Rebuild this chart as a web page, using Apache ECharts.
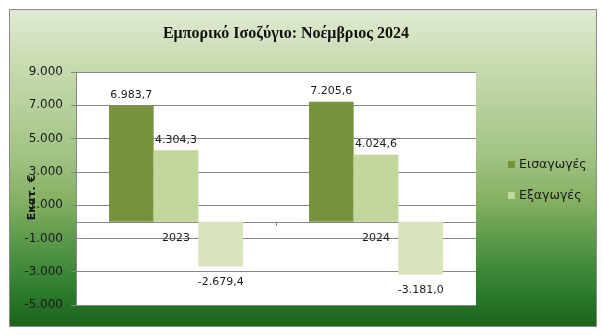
<!DOCTYPE html>
<html>
<head>
<meta charset="utf-8">
<script src="https://cdn.jsdelivr.net/npm/echarts@6/dist/echarts.min.js"></script>
<style>
html,body{margin:0;padding:0;background:#fff;}
#chart{width:602px;height:335px;}
</style>
</head>
<body>
<div id="chart"></div>
<script>
var categories = ['2023', '2024'];
var imports = [6983.7, 7205.6];
var exportsData = [4304.3, 4024.6];
var balance = [-2679.4, -3181.0];
var yTicks = [-5000, -3000, -1000, 1000, 3000, 5000, 7000, 9000];
var titleText = 'Εμπορικό Ισοζύγιο: Νοέμβριος 2024';
var yName = 'Εκατ. €';
var seriesNames = ['Εισαγωγές', 'Εξαγωγές', 'Εμπορικό Ισοζύγιο'];

function grNum(v, dec) {
  var neg = v < 0;
  var s = Math.abs(v).toFixed(dec);
  var parts = s.split('.');
  var ip = parts[0].replace(/\B(?=(\d{3})+(?!\d))/g, '.');
  var out = ip + (parts.length > 1 ? ',' + parts[1] : '');
  return (neg ? '-' : '') + out;
}

var chart = echarts.init(document.getElementById('chart'), null, {renderer: 'canvas'});
var gridColor = '#868686';
var labelFont = {fontFamily: 'DejaVu Sans', fontSize: 11, color: '#1a1a1a'};

chart.setOption({
  animation: false,
  graphic: [{
    type: 'rect', z: -10, silent: true,
    shape: {x: 9.5, y: 9.5, width: 587, height: 317},
    style: {
      fill: {type: 'linear', x: 0, y: 0, x2: 0, y2: 1, colorStops: [
        {offset: 0, color: '#E0EAD4'},
        {offset: 0.15, color: '#CCDDB4'},
        {offset: 0.45, color: '#A3C486'},
        {offset: 0.6, color: '#86B062'},
        {offset: 0.78, color: '#4A9040'},
        {offset: 0.9, color: '#2A792B'},
        {offset: 1, color: '#1C631C'}
      ]},
      stroke: '#8c8c8c', lineWidth: 1
    }
  }],
  title: {
    text: titleText,
    left: 281, top: 21, textAlign: 'center',
    textStyle: {fontFamily: 'Liberation Serif', fontWeight: 'bold', fontSize: 16, color: '#111'}
  },
  legend: {
    data: ['Εισαγωγές', 'Εξαγωγές'],
    orient: 'vertical',
    left: 503, top: 153,
    itemWidth: 7, itemHeight: 7, itemGap: 18,
    icon: 'rect',
    textStyle: {fontFamily: 'DejaVu Sans', fontSize: 12.5, color: '#1a1a1a', padding: [0, 0, 0, -1]}
  },
  grid: {
    left: 76, top: 72, width: 400, height: 233,
    show: true, backgroundColor: '#ffffff', borderWidth: 0
  },
  xAxis: {
    type: 'category',
    data: categories,
    position: 'bottom',
    offset: -83,
    axisLine: {onZero: false, lineStyle: {color: gridColor, width: 1}},
    axisTick: {show: true, length: 4, lineStyle: {color: gridColor}},
    axisLabel: Object.assign({margin: 11}, labelFont),
    splitLine: {show: false}
  },
  yAxis: {
    type: 'value',
    min: -5000, max: 9000,
    name: yName,
    nameLocation: 'middle',
    nameGap: 38,
    nameMoveOverlap: false,
    nameRotate: 90,
    nameTextStyle: {fontFamily: 'DejaVu Sans', fontWeight: 'bold', fontSize: 11, color: '#111', padding: [0, 18, 0, 0]},
    axisLine: {show: true, lineStyle: {color: gridColor}},
    axisTick: {show: true, length: 5, customValues: yTicks, lineStyle: {color: gridColor}},
    axisLabel: {
      customValues: yTicks,
      margin: 13,
      fontFamily: 'DejaVu Sans', fontSize: 12, color: '#1a1a1a',
      formatter: function (v) { return grNum(v, 0); }
    },
    splitLine: {show: true, lineStyle: {color: gridColor, width: 1}}
  },
  series: [
    {
      name: seriesNames[0], type: 'bar', data: imports,
      barGap: '0%', barCategoryGap: '33%',
      itemStyle: {color: '#77933C'},
      label: Object.assign({show: true, position: 'top', distance: 5,
        formatter: function (p) { return grNum(p.value, 1); }}, labelFont)
    },
    {
      name: seriesNames[1], type: 'bar', data: exportsData,
      itemStyle: {color: '#C3D69B'},
      label: Object.assign({show: true, position: 'top', distance: 5,
        formatter: function (p) { return grNum(p.value, 1); }}, labelFont)
    },
    {
      name: seriesNames[2], type: 'bar', data: balance,
      itemStyle: {color: '#D8E4BD'},
      label: Object.assign({show: true, position: 'bottom', distance: 10,
        formatter: function (p) { return grNum(p.value, 1); }}, labelFont)
    }
  ]
});
</script>
</body>
</html>
